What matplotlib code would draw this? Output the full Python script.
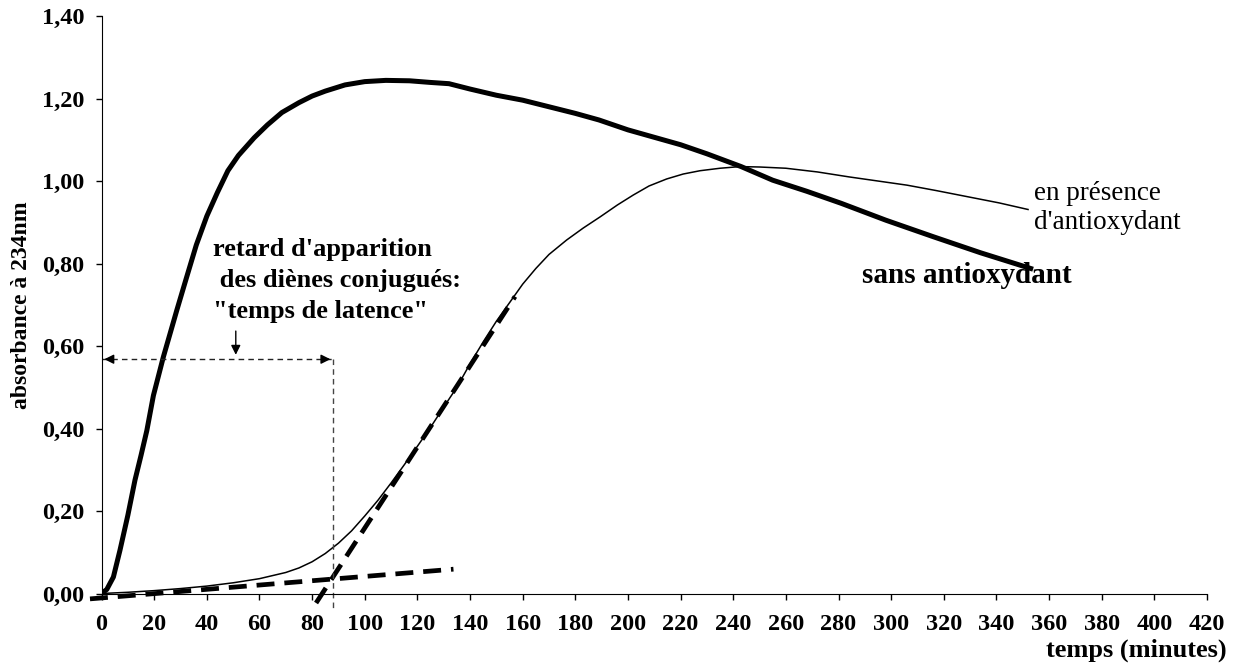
import matplotlib.pyplot as plt
import numpy as np

# police type Times (Liberation Serif)
plt.rcParams['font.family'] = ['Liberation Serif', 'DejaVu Serif']

# courbe sans antioxydant (trait épais)
t_sans = [0, 2, 4.5, 7, 10, 12.7, 15, 17.2, 19.7, 23.5, 28.6, 32, 36, 40, 44, 48, 52, 58, 63,
          68.5, 75, 80, 85, 92.5, 100, 108, 117, 125, 132, 140, 150, 160, 170, 180, 189, 200,
          210, 220, 230, 243, 255, 268, 281, 298, 316, 334, 353]
abs_sans = [0, 0.01, 0.04, 0.105, 0.19, 0.275, 0.335, 0.395, 0.48, 0.574, 0.687, 0.76, 0.845,
            0.915, 0.972, 1.025, 1.062, 1.105, 1.136, 1.166, 1.19, 1.206, 1.218, 1.233, 1.241,
            1.244, 1.243, 1.239, 1.236, 1.223, 1.208, 1.196, 1.18, 1.164, 1.148, 1.124, 1.106,
            1.088, 1.066, 1.035, 1.002, 0.975, 0.946, 0.905, 0.865, 0.826, 0.788]

# courbe en présence d'antioxydant (trait fin)
t_anti = [0, 10, 20, 30, 40, 50, 60, 70, 75, 80, 85, 90, 95, 100, 105, 110, 115, 120, 125,
          130, 135, 140, 145, 150, 155, 160, 165, 170, 176.7, 183, 189.4, 196, 202, 208, 214.7,
          221, 227.4, 235, 242.6, 250, 260, 272, 284, 295, 306, 317, 329, 341, 352]
abs_anti = [0, 0.003, 0.007, 0.012, 0.018, 0.026, 0.036, 0.051, 0.062, 0.077, 0.097, 0.122,
            0.152, 0.188, 0.226, 0.268, 0.312, 0.357, 0.403, 0.452, 0.5, 0.557, 0.61, 0.66,
            0.705, 0.75, 0.788, 0.822, 0.857, 0.886, 0.913, 0.942, 0.966, 0.988, 1.005, 1.017,
            1.025, 1.031, 1.035, 1.034, 1.031, 1.022, 1.01, 1.0, 0.99, 0.977, 0.962, 0.947,
            0.931]

# tangentes (tirets)
tang_base_t = [-4.4, 133.7]
tang_base_y = [-0.013, 0.059]
tang_pente_t = [81.5, 157.1]
tang_pente_y = [-0.023, 0.72]

t_latence = 88
y_fleche = 0.568

xticks = np.arange(0, 421, 20)
yticks = [0, 0.2, 0.4, 0.6, 0.8, 1.0, 1.2, 1.4]
ytick_labels = ['0,00', '0,20', '0,40', '0,60', '0,80', '1,00', '1,20', '1,40']

fig = plt.figure(figsize=(12.4, 6.68), dpi=100)
ax = fig.add_axes([0.0819, 0.1115, 0.8915, 0.8645])

ax.plot(t_sans, abs_sans, color='k', lw=3.6, solid_joinstyle='round')
ax.plot(t_anti, abs_anti, color='k', lw=1.1)
ax.plot(tang_base_t, tang_base_y, color='k', lw=3.4, dashes=(3.8, 2.1), clip_on=False)
ax.plot(tang_pente_t, tang_pente_y, color='k', lw=3.4, dashes=(3.8, 2.1), clip_on=False)

# temps de latence
ax.plot([0, t_latence], [y_fleche, y_fleche], color='#222222', lw=1, dashes=(4, 3))
ax.plot([t_latence, t_latence], [y_fleche, -0.035], color='#444444', lw=1, dashes=(4, 3),
        clip_on=False)
ax.annotate('', xy=(0, y_fleche), xytext=(4, y_fleche),
            arrowprops=dict(arrowstyle='-|>', color='k', lw=1, mutation_scale=14))
ax.annotate('', xy=(t_latence, y_fleche), xytext=(t_latence - 4, y_fleche),
            arrowprops=dict(arrowstyle='-|>', color='k', lw=1, mutation_scale=14))
ax.annotate('', xy=(51, 0.572), xytext=(51, 0.643),
            arrowprops=dict(arrowstyle='-|>', color='k', lw=1, mutation_scale=14))

ax.text(42.4, 0.818, "retard d'apparition", fontsize=19, fontweight='bold', va='baseline')
ax.text(42.4, 0.743, " des diènes conjugués:", fontsize=19, fontweight='bold', va='baseline')
ax.text(42.4, 0.668, '"temps de latence"', fontsize=19, fontweight='bold', va='baseline')
ax.text(354.3, 0.954, 'en présence', fontsize=19.5, va='baseline')
ax.text(354.3, 0.884, "d'antioxydant", fontsize=19.5, va='baseline')
ax.text(289, 0.753, 'sans antioxydant', fontsize=21, fontweight='bold', va='baseline')

ax.set_xlim(0, 420)
ax.set_ylim(0, 1.4)
ax.set_xticks(xticks)
ax.set_xticklabels([str(x) for x in xticks], fontsize=17.5, fontweight='bold')
ax.set_yticks(yticks)
ax.set_yticklabels(ytick_labels, fontsize=17.5, fontweight='bold')
ax.tick_params(direction='out', length=4.5, width=1, pad=8)
ax.tick_params(axis='x', pad=10)
ax.spines['top'].set_visible(False)
ax.spines['right'].set_visible(False)

ax.text(1.018, -0.11, 'temps (minutes)', transform=ax.transAxes, ha='right', va='baseline',
        fontsize=19, fontweight='bold')
ax.text(-0.072, 0.5, 'absorbance à 234nm', transform=ax.transAxes, rotation=90,
        ha='center', va='center', fontsize=17, fontweight='bold')

fig.savefig('out.png', dpi=100)
